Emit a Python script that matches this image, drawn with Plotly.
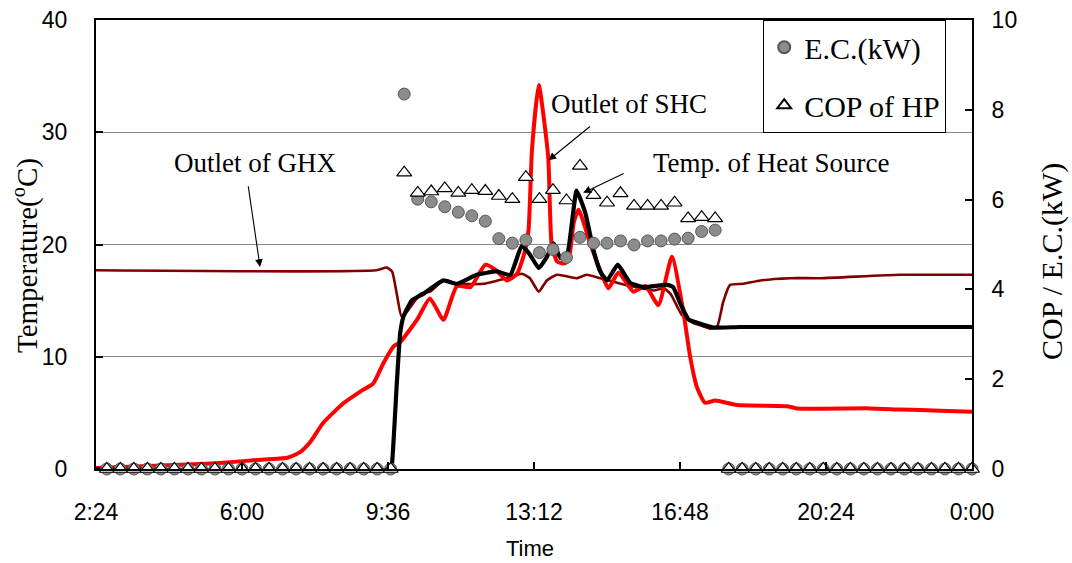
import plotly.graph_objects as go

# ---------------- data ----------------
# Outlet of SHC (red), time "H:MM", temperature (degC)
shc_time = ["2:24", "4:58", "5:32", "6:22", "7:07", "7:26", "7:41", "8:00", "8:30", "8:55",
            "9:14", "9:29", "9:44", "9:54", "10:19", "10:38", "10:58", "11:18", "11:38", "12:00",
            "12:16", "12:32", "12:47", "12:59", "13:04", "13:09", "13:19", "13:33", "13:38", "13:46",
            "13:56", "14:03", "14:11", "14:18", "14:35", "14:50", "15:02", "15:17", "15:39", "15:57",
            "16:16", "16:36", "16:53", "17:03", "17:13", "17:25", "17:40", "18:12", "19:26", "19:41",
            "21:29", "22:14", "23:13", "24:00"]
shc_temp = [0.1, 0.45, 0.56, 0.8, 1.0, 1.5, 2.4, 4.1, 5.85, 6.9,
            7.6, 9.4, 10.9, 11.3, 13.3, 15.2, 13.3, 16.3, 16.2, 18.2,
            17.7, 16.8, 17.4, 19.5, 21.3, 28.4, 34.2, 27.8, 20.1, 18.5,
            18.3, 18.6, 22.0, 23.1, 20.1, 17.7, 16.1, 17.5, 15.8, 16.3,
            14.6, 18.9, 14.0, 10.0, 7.3, 5.9, 6.1, 5.7, 5.6, 5.4,
            5.4, 5.3, 5.2, 5.1]

# Temp. of Heat Source (black)
hs_time = ["2:24", "9:40", "9:42", "9:49", "9:54", "9:59", "10:11", "10:28", "10:58", "11:18",
           "11:47", "12:17", "12:37", "12:54", "13:06", "13:19", "13:31", "13:41", "13:51", "14:01",
           "14:15", "14:28", "14:40", "14:50", "15:00", "15:16", "15:34", "15:54", "16:29", "16:38",
           "16:48", "17:01", "17:20", "17:38", "18:17", "24:00"]
hs_temp = [0.0, 0.0, 0.5, 7.6, 12.1, 13.6, 15.0, 15.6, 16.8, 16.5,
           17.3, 17.6, 17.3, 19.9, 19.1, 17.9, 18.9, 20.1, 18.8, 19.1,
           24.8, 22.8, 19.5, 17.6, 16.8, 18.2, 16.6, 16.2, 16.4, 16.2,
           14.8, 13.3, 12.9, 12.6, 12.65, 12.65]

# Outlet of GHX (dark red)
ghx_time = ["2:24", "9:19", "9:34", "9:42", "9:49", "9:56", "10:04", "10:24", "10:38", "10:58",
            "11:18", "11:57", "12:37", "12:54", "13:06", "13:19", "13:31", "13:46", "14:15", "14:30",
            "14:50", "15:20", "15:50", "16:09", "16:24", "16:34", "16:51", "17:08", "17:23", "17:33",
            "17:43", "17:52", "18:02", "18:22", "18:47", "19:31", "20:16", "22:14", "24:00"]
ghx_temp = [17.7, 17.7, 17.95, 17.6, 15.6, 13.6, 14.0, 15.6, 15.8, 16.8,
            16.5, 16.5, 17.1, 17.4, 17.0, 15.8, 16.8, 17.3, 17.0, 17.3,
            17.0, 16.5, 16.1, 15.9, 16.1, 15.6, 13.7, 13.0, 12.7, 12.5,
            12.7, 14.9, 16.4, 16.5, 16.8, 17.0, 17.0, 17.3, 17.3]

# E.C.(kW) and COP of HP, every 20 minutes from 2:40 to 24:00
pt_time = ["2:40", "3:00", "3:20", "3:40", "4:00", "4:20", "4:40", "5:00", "5:20", "5:40",
           "6:00", "6:20", "6:40", "7:00", "7:20", "7:40", "8:00", "8:20", "8:40", "9:00",
           "9:20", "9:40",
           "10:00", "10:20", "10:40", "11:00", "11:20", "11:40", "12:00", "12:20", "12:40", "13:00",
           "13:20", "13:40", "14:00", "14:20", "14:40", "15:00", "15:20", "15:40", "16:00", "16:20",
           "16:40", "17:00", "17:20", "17:40",
           "18:00", "18:20", "18:40", "19:00", "19:20", "19:40", "20:00", "20:20", "20:40", "21:00",
           "21:20", "21:40", "22:00", "22:20", "22:40", "23:00", "23:20", "23:40", "24:00"]
ec_kw = [0, 0, 0, 0, 0, 0, 0, 0, 0, 0,
         0, 0, 0, 0, 0, 0, 0, 0, 0, 0,
         0, 0,
         8.35, 6.01, 5.95, 5.84, 5.72, 5.64, 5.52, 5.13, 5.03, 5.10,
         4.82, 4.89, 4.71, 5.16, 5.03, 5.03, 5.08, 4.99, 5.08, 5.08,
         5.12, 5.14, 5.29, 5.32,
         0, 0, 0, 0, 0, 0, 0, 0, 0, 0,
         0, 0, 0, 0, 0, 0, 0, 0, 0]
cop_hp = [0, 0, 0, 0, 0, 0, 0, 0, 0, 0,
          0, 0, 0, 0, 0, 0, 0, 0, 0, 0,
          0, 0,
          6.60, 6.15, 6.18, 6.25, 6.15, 6.21, 6.19, 6.08, 6.01, 6.50,
          6.01, 6.21, 5.98, 6.75, 6.10, 5.93, 6.14, 5.86, 5.86, 5.86,
          5.93, 5.58, 5.61, 5.58,
          0, 0, 0, 0, 0, 0, 0, 0, 0, 0,
          0, 0, 0, 0, 0, 0, 0, 0, 0]

x_tickvals_hm = ["2:24", "6:00", "9:36", "13:12", "16:48", "20:24", "24:00"]
x_ticktext = ["2:24", "6:00", "9:36", "13:12", "16:48", "20:24", "0:00"]


def hours(s):
    h, m = s.split(":")
    return int(h) + int(m) / 60.0


SERIF = "Liberation Serif, Times New Roman, serif"
SANS = "Liberation Sans, Arial, sans-serif"

fig = go.Figure()

fig.add_trace(go.Scatter(x=[hours(t) for t in ghx_time], y=ghx_temp, mode="lines",
                         line=dict(color="#800000", width=2.6, shape="spline", smoothing=0.5),
                         showlegend=False, name="Outlet of GHX"))
fig.add_trace(go.Scatter(x=[hours(t) for t in shc_time], y=shc_temp, mode="lines",
                         line=dict(color="#ff0000", width=4, shape="spline", smoothing=0.5),
                         showlegend=False, name="Outlet of SHC"))
fig.add_trace(go.Scatter(x=[hours(t) for t in hs_time], y=hs_temp, mode="lines",
                         line=dict(color="#000000", width=4.2, shape="spline", smoothing=0.4),
                         showlegend=False, name="Temp. of Heat Source"))

fig.add_trace(go.Scatter(x=[hours(t) for t in pt_time], y=ec_kw, mode="markers", yaxis="y2",
                         marker=dict(symbol="circle", size=12, color="#8c8c8c",
                                     line=dict(color="#555555", width=1)),
                         cliponaxis=False, name="E.C.(kW)", legendgroup="a"))
fig.add_trace(go.Scatter(x=[hours(t) for t in pt_time], y=cop_hp, mode="markers", yaxis="y2",
                         marker=dict(symbol="triangle-up", size=13, color="white",
                                     line=dict(color="black", width=1.2)),
                         cliponaxis=False, name="COP of HP", legendgroup="b"))

L, R, T, B = 96, 100, 20, 94
W, H = 1072, 563
PW, PH = W - L - R, H - T - B


def px(xp):
    return (xp - L) / PW


def py(yp):
    return (H - B - yp) / PH


def label(text, xp, yp, size, family, angle=0):
    return dict(text=text, x=px(xp), y=py(yp), xref="paper", yref="paper",
                xanchor="center", yanchor="middle", showarrow=False, textangle=angle,
                font=dict(family=family, size=size, color="black"))


def arrow(xh, yh, ax, ay):
    return dict(text="", x=xh, y=yh, xref="x", yref="y", ax=ax, ay=ay, showarrow=True,
                arrowhead=2, arrowsize=1.4, arrowwidth=1.1, arrowcolor="black", standoff=0)


annotations = [
    label("Outlet of GHX", 255, 163, 27, SERIF),
    label("Outlet of SHC", 629, 104, 27, SERIF),
    label("Temp. of Heat Source", 771, 163, 27, SERIF),
    arrow(6.445, 18.0, -12, -82),
    arrow(13.557, 27.5, 43, -35),
    arrow(14.413, 24.6, 42, -20),
    label("Temperature(<sup>o</sup>C)", 25, 256, 29, SERIF, -90),
    label("COP / E.C.(kW)", 1052, 262, 30, SERIF, -90),
    label("Time", 530, 548, 22, SANS),
]

fig.update_layout(
    template="none",
    width=W, height=H,
    margin=dict(l=L, r=R, t=T, b=B, pad=0, autoexpand=False),
    paper_bgcolor="white", plot_bgcolor="white",
    annotations=annotations,
    legend=dict(x=px(763), y=1.0, xanchor="left", yanchor="top",
                bgcolor="white", bordercolor="black", borderwidth=1.2,
                font=dict(family=SERIF, size=30, color="black"),
                traceorder="grouped", tracegroupgap=16, itemsizing="constant"),
    xaxis=dict(range=[2.4, 24], tickmode="array", automargin=False,
               tickvals=[hours(t) for t in x_tickvals_hm], ticktext=x_ticktext,
               ticks="inside", ticklen=7, tickcolor="black", tickwidth=1.5,
               showline=True, linecolor="black", linewidth=2, mirror=True,
               showgrid=False, zeroline=False, ticklabelstandoff=21,
               tickfont=dict(family=SANS, size=23, color="black")),
    yaxis=dict(range=[0, 40], dtick=10, ticks="inside", ticklen=7, tickcolor="black", tickwidth=1.5,
               showline=True, linecolor="black", linewidth=2, automargin=False,
               showgrid=True, gridcolor="#8a8a8a", gridwidth=1, zeroline=False,
               ticklabelstandoff=22,
               tickfont=dict(family=SANS, size=23, color="black")),
    yaxis2=dict(range=[0, 10], dtick=2, overlaying="y", side="right", automargin=False,
                ticks="inside", ticklen=7, tickcolor="black", tickwidth=1.5,
                showline=True, linecolor="black", linewidth=2,
                showgrid=False, zeroline=False, ticklabelstandoff=13,
                tickfont=dict(family=SANS, size=23, color="black")),
)

fig.write_html("out.html")
